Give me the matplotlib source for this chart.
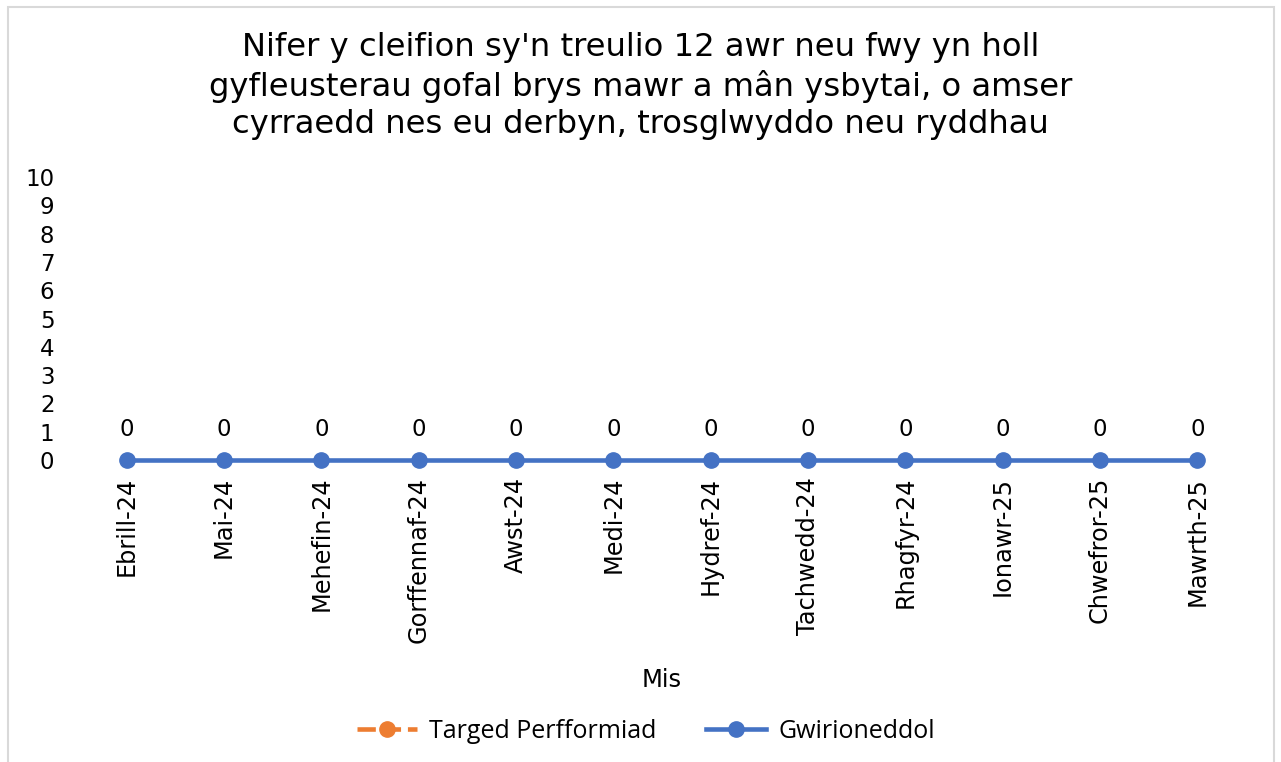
import matplotlib
matplotlib.use("Agg")
import matplotlib.pyplot as plt
import numpy as np
from matplotlib.patches import Rectangle

months = ["Ebrill-24", "Mai-24", "Mehefin-24", "Gorffennaf-24", "Awst-24", "Medi-24",
          "Hydref-24", "Tachwedd-24", "Rhagfyr-24", "Ionawr-25", "Chwefror-25", "Mawrth-25"]
actual = [0, 0, 0, 0, 0, 0, 0, 0, 0, 0, 0, 0]
target = [np.nan] * 12
yticks = list(range(0, 11))

title = ("Nifer y cleifion sy'n treulio 12 awr neu fwy yn holl\n"
         "gyfleusterau gofal brys mawr a mân ysbytai, o amser\n"
         "cyrraedd nes eu derbyn, trosglwyddo neu ryddhau")

plt.rcParams['font.family'] = ['DejaVu Sans']
fig = plt.figure(figsize=(12.81, 7.62), dpi=100)
fig.patches.append(Rectangle((8/1281, -0.01), (1274-8)/1281, 1 - 7/762 + 0.01,
                             transform=fig.transFigure, fill=False,
                             edgecolor="#d9d9d9", linewidth=1.5))

ax = fig.add_axes([78/1281, 1 - 460/762, (1246-78)/1281, (460-177)/762])
x = np.arange(len(months))
ax.plot(x, target, color="#ED7D31", linewidth=3.3, linestyle=(0, (4, 1.5)),
        marker="o", markersize=11, label="Targed Perfformiad", clip_on=False)
ax.plot(x, actual, color="#4472C4", linewidth=3.3, marker="o", markersize=11,
        label="Gwirioneddol", clip_on=False, zorder=5)
for xi, v in zip(x, actual):
    ax.annotate(f"{v}", (xi, v), xytext=(0, 14), textcoords="offset points",
                ha="center", va="bottom", fontsize=16.5)

ax.set_xlim(-0.5, len(months) - 0.5)
ax.set_ylim(0, 10)
ax.set_yticks(yticks)
ax.set_yticklabels([str(t) for t in yticks], fontsize=16.5)
ax.set_xticks(x)
ax.set_xticklabels(months, rotation=90, fontsize=17.3)
ax.tick_params(axis="both", length=0)
ax.tick_params(axis="y", pad=17)
ax.tick_params(axis="x", pad=12)
for s in ax.spines.values():
    s.set_visible(False)

fig.text(0.5, 1 - 86/762, title, ha="center", va="center", fontsize=23.2,
         linespacing=1.27)
fig.text(662/1281, 1 - 680/762, "Mis", ha="center", va="center", fontsize=17.5)

leg = fig.legend(loc="center", bbox_to_anchor=(646/1281, 1 - 731/762), ncol=2,
                 frameon=False, prop={"family": "Open Sans", "size": 18},
                 handlelength=2.4, columnspacing=2.0, handletextpad=0.5)

fig.savefig("out.png", dpi=100)
